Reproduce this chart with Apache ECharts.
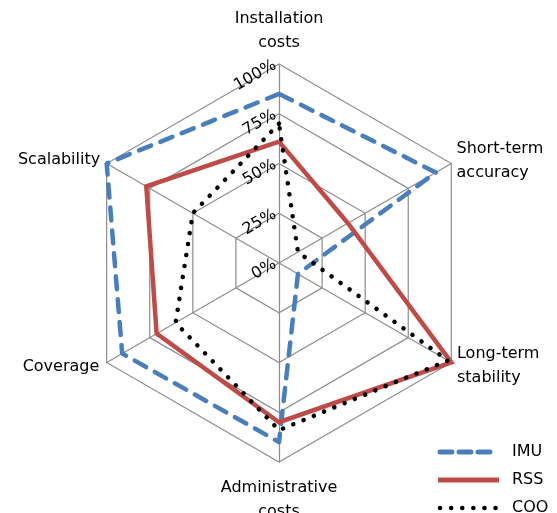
<!DOCTYPE html>
<html>
<head>
<meta charset="utf-8">
<script src="https://cdn.jsdelivr.net/npm/echarts@6/dist/echarts.min.js"></script>
<style>
html,body{margin:0;padding:0;background:#fff;}
#c{width:557px;height:513px;}
</style>
</head>
<body>
<div id="c"></div>
<script>
// Indicators in ECharts (counter-clockwise from top) order
var indicatorNames = ['Installation\ncosts', 'Scalability', 'Coverage', 'Administrative\ncosts', 'Long-term\nstability', 'Short-term\naccuracy'];
var tickLabels = ['0%', '25%', '50%', '75%', '100%'];
var seriesNames = ['IMU', 'RSS', 'COO'];
var imuValues = [85, 100, 91, 90, 11, 91];
var rssValues = [61, 77, 71, 80, 100, 40];
var cooValues = [70, 50, 60, 84, 98, 11];

var nameGaps = [9, 7.5, 8.5, 14, 6.5, 6];
var FONT = '"DejaVu Sans"';

function svgIcon(inner) {
  var svg = '<svg xmlns="http://www.w3.org/2000/svg" width="70" height="16" viewBox="0 0 70 16">' + inner + '</svg>';
  return 'image://data:image/svg+xml;charset=utf-8,' + encodeURIComponent(svg);
}
var icons = [
  svgIcon('<line x1="3" y1="8" x2="59" y2="8" stroke="#4a7ebb" stroke-width="5" stroke-linecap="round" stroke-dasharray="12 7"/>'),
  svgIcon('<line x1="1" y1="8" x2="62" y2="8" stroke="#be4b48" stroke-width="5"/>'),
  svgIcon('<line x1="3" y1="8" x2="60" y2="8" stroke="#000" stroke-width="4.5" stroke-linecap="round" stroke-dasharray="0.1 11"/>')
];

var indicator = indicatorNames.map(function (n, i) {
  var o = { name: n, min: 0, max: 100, nameGap: nameGaps[i] };
  if (i === 0) {
    o.axisLabel = {
      show: true,
      rotate: 30,
      margin: 4,
      align: 'right',
      verticalAlign: 'middle',
      padding: [0, 0, 4, 0],
      fontSize: 16,
      color: '#000',
      fontFamily: FONT,
      formatter: function (v) { return tickLabels[Math.round(v / 25)]; }
    };
  }
  return o;
});

var chart = echarts.init(document.getElementById('c'), null, { renderer: 'canvas' });
chart.setOption({
  backgroundColor: '#fff',
  animation: false,
  legend: {
    orient: 'vertical',
    left: 437,
    top: 444,
    height: 120,
    padding: 0,
    itemWidth: 70,
    itemHeight: 16,
    itemGap: 12,
    textStyle: { fontSize: 16, color: '#000', fontFamily: FONT },
    data: seriesNames.map(function (n, i) { return { name: n, icon: icons[i] }; })
  },
  radar: {
    center: [279, 263],
    radius: 199,
    startAngle: 90,
    splitNumber: 4,
    shape: 'polygon',
    axisName: { color: '#000', fontSize: 16, fontFamily: FONT, lineHeight: 24 },
    axisLine: { lineStyle: { color: '#8c8c8c', width: 1.2 } },
    splitLine: { lineStyle: { color: '#8c8c8c', width: 1.2 } },
    splitArea: { show: false },
    axisTick: { show: false },
    axisLabel: { show: false },
    indicator: indicator
  },
  series: [{
    type: 'radar',
    symbol: 'none',
    data: [
      { name: seriesNames[0], value: imuValues,
        lineStyle: { color: '#4a7ebb', width: 4.5, type: [13, 10], cap: 'round', join: 'round' },
        itemStyle: { color: '#4a7ebb' } },
      { name: seriesNames[1], value: rssValues,
        lineStyle: { color: '#be4b48', width: 4.5, type: 'solid', join: 'miter' },
        itemStyle: { color: '#be4b48' } },
      { name: seriesNames[2], value: cooValues,
        lineStyle: { color: '#000', width: 4.5, type: [0.1, 11], cap: 'round', join: 'round' },
        itemStyle: { color: '#000' } }
    ]
  }]
});
</script>
</body>
</html>
